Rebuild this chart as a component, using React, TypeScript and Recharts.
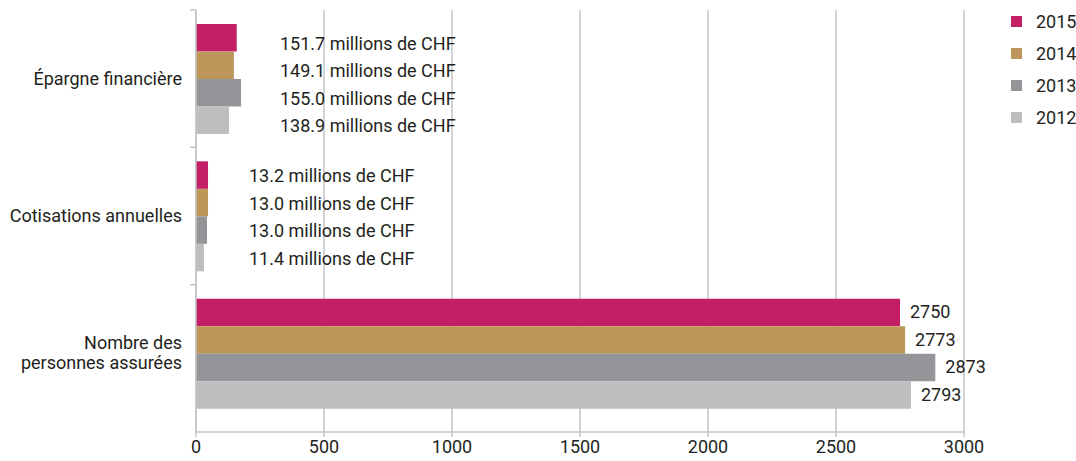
import { BarChart, Bar, XAxis, YAxis, CartesianGrid, LabelList } from "recharts";

const categories = ["Épargne financière", "Cotisations annuelles", "Nombre des\npersonnes assurées"];
const years = ["2015", "2014", "2013", "2012"];

// bar lengths as drawn in the original
const v2015 = [159, 47, 2750];
const v2014 = [148, 47, 2770];
const v2013 = [176, 43, 2888];
const v2012 = [129, 31, 2793];

// printed labels
const l2015 = ["151.7 millions de CHF", "13.2 millions de CHF", "2750"];
const l2014 = ["149.1 millions de CHF", "13.0 millions de CHF", "2773"];
const l2013 = ["155.0 millions de CHF", "13.0 millions de CHF", "2873"];
const l2012 = ["138.9 millions de CHF", "11.4 millions de CHF", "2793"];

const xTicks = [0, 500, 1000, 1500, 2000, 2500, 3000];

const COLORS = ["#c41e67", "#bc965b", "#939598", "#bdbec0"];
const FONT = "Roboto, 'DejaVu Sans', sans-serif";
const FS = 18;
const TEXT = "#231f20";
const AXIS = "#c4c4c4";

const W = 1076;
const H = 461;
const TOP = 10;
const X_AX_H = 29;
const PAD_BOTTOM = 10;

// label placement per category: fixed shift from the axis, or null = at bar end
const labelShift: (number | null)[] = [84, 53, null];
const labelDy = [6, 1, 0];

const values = [v2015, v2014, v2013, v2012];
const labels = [l2015, l2014, l2013, l2012];

const data = categories.map((name, i) => {
  const row: Record<string, string | number> = { name };
  years.forEach((y, k) => {
    row["y" + y] = values[k][i];
    row["l" + y] = labels[k][i];
  });
  return row;
});

const band = (H - TOP - X_AX_H - PAD_BOTTOM) / categories.length;

function CatTick(props: any) {
  const { x, y, payload } = props;
  const lines = String(payload.value).split("\n");
  const axisX = x + 14;
  return (
    <g>
      <line x1={axisX} x2={axisX - 6} y1={y - band / 2} y2={y - band / 2} stroke={AXIS} strokeWidth={1.5} />
      <text x={x} y={y} textAnchor="end" fontFamily={FONT} fontSize={FS} fill={TEXT}>
        {lines.map((t, i) => (
          <tspan key={i} x={x} dy={i === 0 ? (lines.length === 1 ? 6 : -4) : 20}>
            {t}
          </tspan>
        ))}
      </text>
    </g>
  );
}

function makeLabel(year: string) {
  return (props: any) => {
    const { x, y, width, height, index } = props;
    const text = data[index]["l" + year];
    const shift = labelShift[index];
    const lx = shift == null ? x + width + 10 : x + shift;
    return (
      <text x={lx} y={y + height / 2 + labelDy[index]} dy={6} fontFamily={FONT} fontSize={FS} fill={TEXT}>
        {text}
      </text>
    );
  };
}

function LegendBox() {
  return (
    <div style={{ position: "absolute", top: 5, left: 1011, fontFamily: FONT, fontSize: FS, color: TEXT }}>
      {years.map((y, k) => (
        <div key={y} style={{ display: "flex", alignItems: "center", height: 32 }}>
          <span style={{ width: 11, height: 11, background: COLORS[k], display: "inline-block", marginRight: 14 }} />
          <span>{y}</span>
        </div>
      ))}
    </div>
  );
}

export default function App() {
  return (
    <div style={{ position: "absolute", left: 0, top: 0, width: W, height: H, background: "#fff" }}>
      <BarChart
        width={W}
        height={H}
        data={data}
        layout="vertical"
        margin={{ top: TOP, right: 112, bottom: 0, left: 0 }}
        barGap={0}
      >
        <CartesianGrid horizontal={false} stroke={AXIS} strokeWidth={1.5} />
        <XAxis
          type="number"
          domain={[0, 3000]}
          ticks={xTicks}
          height={X_AX_H}
          stroke={AXIS}
          strokeWidth={1.5}
          tickSize={5}
          tickMargin={3}
          tick={{ fontFamily: FONT, fontSize: FS, fill: TEXT }}
        />
        <YAxis
          type="category"
          dataKey="name"
          width={196}
          tickLine={false}
          tickSize={6}
          tickMargin={8}
          stroke={AXIS}
          strokeWidth={1.5}
          padding={{ top: 0, bottom: PAD_BOTTOM }}
          tick={<CatTick />}
          interval={0}
        />
        {years.map((y, k) => (
          <Bar key={y} dataKey={"y" + y} name={y} fill={COLORS[k]} barSize={27.5} isAnimationActive={false}>
            <LabelList dataKey={"l" + y} content={makeLabel(y)} />
          </Bar>
        ))}
      </BarChart>
      <LegendBox />
    </div>
  );
}
